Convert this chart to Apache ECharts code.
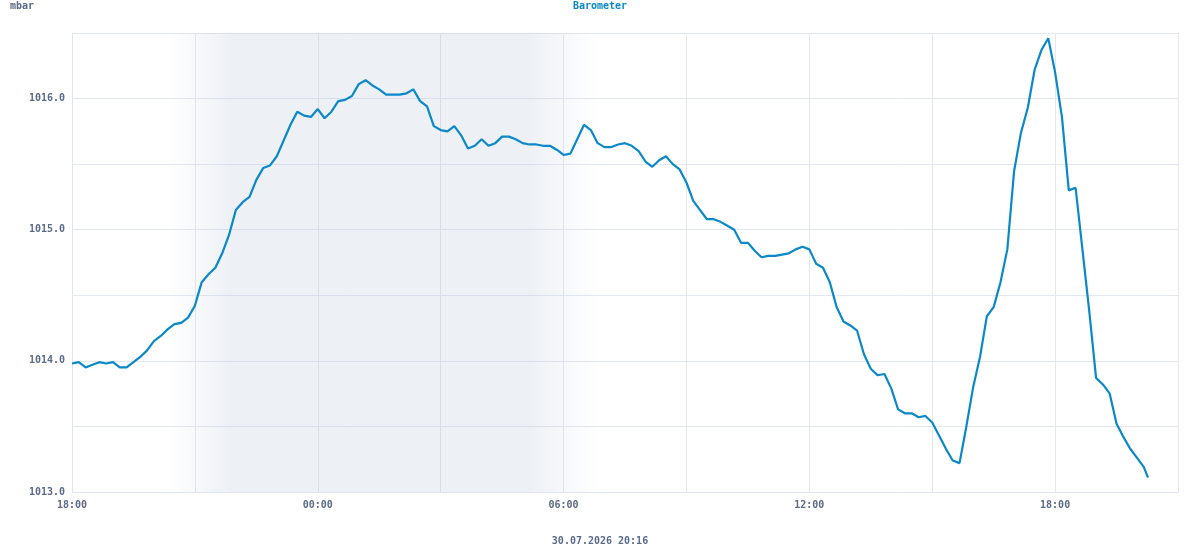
<!DOCTYPE html>
<html>
<head>
<meta charset="utf-8">
<script src="https://cdn.jsdelivr.net/npm/echarts@6/dist/echarts.min.js"></script>
<style>
  html, body { margin: 0; padding: 0; background: #fff; }
  #chart { width: 1200px; height: 550px; }
</style>
</head>
<body>
<div id="chart"></div>
<script>
  // minutes after 18:00 on 29.07, one reading every 10 minutes
  const stepMinutes = 10
  const pressure = [
    1013.98, 1013.99, 1013.95, 1013.97, 1013.99, 1013.98, 1013.99, 1013.95, 1013.95, 1013.99,
    1014.03, 1014.08, 1014.15, 1014.19, 1014.24, 1014.28, 1014.29, 1014.33, 1014.42, 1014.60,
    1014.66, 1014.71, 1014.82, 1014.96, 1015.15, 1015.21, 1015.25, 1015.38, 1015.47, 1015.49,
    1015.56, 1015.68, 1015.80, 1015.90, 1015.87, 1015.86, 1015.92, 1015.85, 1015.90, 1015.98,
    1015.99, 1016.02, 1016.11, 1016.14, 1016.10, 1016.07, 1016.03, 1016.03, 1016.03, 1016.04,
    1016.07, 1015.98, 1015.94, 1015.79, 1015.76, 1015.75, 1015.79, 1015.72, 1015.62, 1015.64,
    1015.69, 1015.64, 1015.66, 1015.71, 1015.71, 1015.69, 1015.66, 1015.65, 1015.65, 1015.64,
    1015.64, 1015.61, 1015.57, 1015.58, 1015.69, 1015.80, 1015.76, 1015.66, 1015.63, 1015.63,
    1015.65, 1015.66, 1015.64, 1015.60, 1015.52, 1015.48, 1015.53, 1015.56, 1015.50, 1015.46,
    1015.36, 1015.22, 1015.15, 1015.08, 1015.08, 1015.06, 1015.03, 1015.00, 1014.90, 1014.90,
    1014.84, 1014.79, 1014.80, 1014.80, 1014.81, 1014.82, 1014.85, 1014.87, 1014.85, 1014.74,
    1014.71, 1014.60, 1014.41, 1014.30, 1014.27, 1014.23, 1014.05, 1013.94, 1013.89, 1013.90,
    1013.79, 1013.63, 1013.60, 1013.60, 1013.57, 1013.58, 1013.53, 1013.43, 1013.33, 1013.24,
    1013.22, 1013.50, 1013.80, 1014.03, 1014.34, 1014.41, 1014.60, 1014.85, 1015.45, 1015.74,
    1015.93, 1016.22, 1016.37, 1016.46, 1016.20, 1015.86, 1015.30, 1015.32, 1014.85, 1014.38,
    1013.87, 1013.82, 1013.75, 1013.52, 1013.42, 1013.33, 1013.26, 1013.19
  ]
  const lastReading = [1576, 1013.11]   // 20:16
  const nightStart = 140                 // ~20:20
  const nightEnd = 770                   // ~06:50
  const yTicks = [1013.0, 1014.0, 1015.0, 1016.0]

  const textColor = '#5a6a88'
  const font = '"DejaVu Sans Mono", monospace'

  let seriesData = pressure.map((v, i) => [i * stepMinutes, v])
  seriesData.push(lastReading)

  function hhmm(min) {
    let h = (18 + Math.floor(min / 60)) % 24
    let m = min % 60
    return String(h).padStart(2, '0') + ':' + String(m).padStart(2, '0')
  }

  let chart = echarts.init(document.getElementById('chart'))
  chart.setOption({
    animation: false,
    backgroundColor: '#fff',
    title: [
      {
        text: 'Barometer',
        left: 'center',
        top: 1,
        padding: 0,
        textStyle: {fontFamily: font, fontSize: 10, fontWeight: 'bold', color: '#0a88c8'}
      },
      {
        text: 'mbar',
        left: 10,
        top: 1,
        padding: 0,
        textStyle: {fontFamily: font, fontSize: 10, fontWeight: 'bold', color: textColor}
      },
      {
        text: '30.07.2026 20:16',
        left: 'center',
        top: 536,
        padding: 0,
        textStyle: {fontFamily: font, fontSize: 10, fontWeight: 'bold', color: textColor}
      }
    ],
    grid: {left: 72, right: 22, top: 33, bottom: 58},
    xAxis: {
      type: 'value',
      min: 0,
      max: 1620,
      interval: 180,
      axisLine: {show: true, lineStyle: {color: '#e1e5ed'}},
      axisTick: {show: false},
      splitLine: {show: true, lineStyle: {color: '#e3e7ef', width: 1}},
      axisLabel: {
        fontFamily: font, fontSize: 10, fontWeight: 'bold', color: textColor, margin: 8,
        formatter: v => (v % 360 === 0 ? hhmm(v) : '')
      }
    },
    yAxis: {
      type: 'value',
      min: 1013,
      max: 1016.5,
      interval: 0.5,
      axisLine: {show: true, lineStyle: {color: '#e1e5ed'}},
      axisTick: {show: false},
      splitLine: {show: true, lineStyle: {color: '#e3e7ef', width: 1}},
      axisLabel: {
        fontFamily: font, fontSize: 10, fontWeight: 'bold', color: textColor, margin: 7,
        formatter: v => (yTicks.includes(v) ? v.toFixed(1) : '')
      }
    },
    series: [
      {
        type: 'line',
        data: seriesData,
        showSymbol: false,
        lineStyle: {color: '#0a88c8', width: 2.2},
        markArea: {
          silent: true,
          itemStyle: {
            color: new echarts.graphic.LinearGradient(0, 0, 1, 0, [
              {offset: 0, color: 'rgba(180,195,215,0)'},
              {offset: 0.15, color: 'rgba(180,195,215,0.24)'},
              {offset: 0.84, color: 'rgba(180,195,215,0.24)'},
              {offset: 1, color: 'rgba(180,195,215,0)'}
            ])
          },
          data: [[{xAxis: nightStart}, {xAxis: nightEnd}]]
        }
      }
    ]
  })
</script>
</body>
</html>
